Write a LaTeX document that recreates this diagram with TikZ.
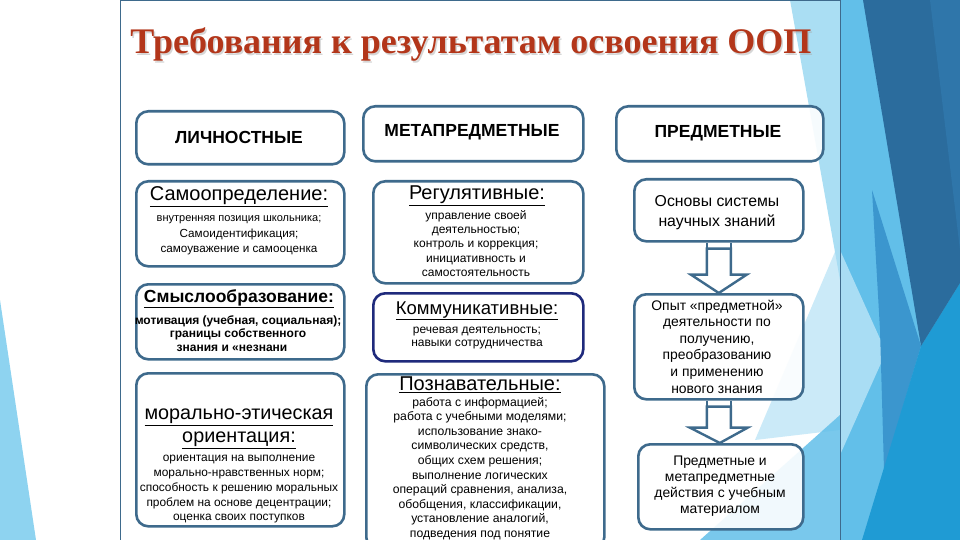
\documentclass[tikz,border=0pt]{standalone}
\usepackage{fontspec}
\setmainfont{Liberation Serif}
\newfontfamily\arial{Liberation Sans}
\usetikzlibrary{calc}
\definecolor{boxc}{HTML}{3E6A8C}
\definecolor{navyc}{HTML}{1F2A7C}
\definecolor{titlec}{HTML}{B3361A}
\definecolor{panelc}{HTML}{3E6A8C}
\definecolor{lblue}{HTML}{8ED3F0}
\definecolor{mblue}{HTML}{62BFE9}
\definecolor{dblue}{HTML}{2B6C9D}
\definecolor{dblue2}{HTML}{2F76AA}
\definecolor{bblue}{HTML}{1F9BD4}
\definecolor{medblue}{HTML}{3B96CE}
\definecolor{pblue}{HTML}{A9DDF4}
\newcommand\myfs[2]{\fontsize{#1}{#2}\selectfont}
\begin{document}
\begin{tikzpicture}[x=1pt,y=-1pt,
  rbox/.style={draw=boxc, line width=2.6pt, rounded corners=12pt, fill=white, fill opacity=0.9, inner sep=0pt, anchor=north west},
  txt/.style={align=center, inner sep=0pt, text=black},
  barrow/.style={draw=boxc, line width=2.4pt, fill=white, line join=miter},
]
\useasboundingbox (0,0) rectangle (960,540);
% background
\fill[white] (0,0) rectangle (960,540);
\fill[lblue] (0,300) -- (36,540) -- (0,540) -- cycle;
\fill[mblue] (830,0) rectangle (960,540);
\fill[pblue] (840,250) -- (886,352) -- (840,455) -- cycle;
\fill[medblue] (872,190) -- (921,346) -- (884,470) -- (880,330) -- cycle;
\fill[bblue] (960,283) -- (960,540) -- (862,540) -- (921,346) -- cycle;
\fill[dblue] (863,0) -- (960,0) -- (960,283) -- (921,346) -- cycle;
\fill[dblue2] (930,0) -- (960,0) -- (960,250) -- cycle;
% panel
\fill[white] (120,0) rectangle (840,540);
\fill[lblue, opacity=0.75] (790,0) -- (840,0) -- (840,280) -- cycle;
\fill[pblue, opacity=0.6] (840,240) -- (840,430) -- (755,440) -- cycle;
\fill[mblue, opacity=0.85] (700,540) -- (840,415) -- (840,540) -- cycle;
\draw[panelc, line width=1pt] (120,541) -- (120,0.5) -- (840,0.5) -- (840,541);
% title
\node[txt, font=\bfseries\myfs{36}{40}, text=black!35, opacity=0.45] at (472.5,46.5) {Требования к результатам освоения ООП};
\node[txt, font=\bfseries\myfs{36}{40}, text=titlec] (title) at (471,45) {Требования к результатам освоения ООП};
% boxes
\node[rbox, minimum width=208pt, minimum height=53pt] (lh) at (135,110) {};
\node[rbox, minimum width=208pt, minimum height=85pt] (l1) at (135,180) {};
\node[rbox, minimum width=208pt, minimum height=75pt] (l2) at (135,283) {};
\node[rbox, minimum width=208pt, minimum height=153pt] (l3) at (135,372) {};
\node[rbox, minimum width=220pt, minimum height=55pt] (mh) at (362,105) {};
\node[rbox, minimum width=210pt, minimum height=102pt] (m1) at (372,180) {};
\node[rbox, draw=navyc, minimum width=210pt, minimum height=68pt] (m2) at (372,292) {};
\node[rbox, minimum width=238pt, minimum height=175pt] (m3) at (365,373) {};
\node[rbox, minimum width=207pt, minimum height=55pt] (rh) at (615,105) {};
\node[rbox, minimum width=169pt, minimum height=62pt] (r1) at (633,178) {};
\node[rbox, minimum width=169pt, minimum height=105pt] (r2) at (633,293) {};
\node[rbox, minimum width=165pt, minimum height=85pt] (r3) at (637,443) {};
% block arrows
\draw[barrow] ($(r1.south)+(-12,6)$) -- ($(r1.south)+(12,6)$) -- ($(r1.south)+(12,32)$) -- ($(r1.south)+(28,32)$) -- (r2.north) -- ($(r1.south)+(-28,32)$) -- ($(r1.south)+(-12,32)$) -- cycle;
\draw[boxc, line width=2.4pt] ($(r1.south)+(-12,0)$) -- ($(r1.south)+(-12,7)$) ($(r1.south)+(12,0)$) -- ($(r1.south)+(12,7)$);
\draw[barrow] ($(r2.south)+(-12,6)$) -- ($(r2.south)+(12,6)$) -- ($(r2.south)+(12,27)$) -- ($(r2.south)+(29,27)$) -- ($(r3.north)+(-1,0)$) -- ($(r2.south)+(-29,27)$) -- ($(r2.south)+(-12,27)$) -- cycle;
\draw[boxc, line width=2.4pt] ($(r2.south)+(-12,0)$) -- ($(r2.south)+(-12,7)$) ($(r2.south)+(12,0)$) -- ($(r2.south)+(12,7)$);
% texts: left column
\node[txt, font=\arial\bfseries\myfs{17.5}{20}] (tlh) at (239,137) {ЛИЧНОСТНЫЕ};
\node[txt, font=\arial\myfs{20}{24}] (tl1) at (239,197) {\underline{Самоопределение:}};
\node[txt, font=\arial\myfs{11}{12}] (tl1a) at (239,220) {внутренняя позиция школьника;};
\node[txt, font=\arial\myfs{11.7}{14.5}] (tl1b) at (239,242) {Самоидентификация;\\самоуважение и самооценка};
\node[txt, font=\arial\bfseries\myfs{17.5}{20}] (tl2) at (239,299) {\underline{Смыслообразование:}};
\node[txt, font=\arial\bfseries\myfs{12}{12.5}] (tl2a) at (238,328) {мотивация (учебная, социальная);\\границы собственного};
\node[txt, font=\arial\bfseries\myfs{12}{12.5}] (tl2b) at (232,348) {знания и «незнани};
\node[txt, font=\arial\myfs{19.8}{23}] (tl3) at (239,428.5) {\underline{морально-этическая}\\\underline{ориентация:}};
\node[txt, font=\arial\myfs{11.9}{14.75}] (tl3a) at (239,489.5) {ориентация на выполнение\\морально-нравственных норм;\\способность к решению моральных\\проблем на основе децентрации;\\оценка своих поступков};
% middle column
\node[txt, font=\arial\bfseries\myfs{17.5}{20}] (tmh) at (472,132) {МЕТАПРЕДМЕТНЫЕ};
\node[txt, font=\arial\myfs{20}{24}] (tm1) at (477,196) {\underline{Регулятивные:}};
\node[txt, font=\arial\myfs{12}{14.4}] (tm1a) at (476,243.5) {управление своей\\деятельностью;\\контроль и коррекция;\\инициативность и\\самостоятельность};
\node[txt, font=\arial\myfs{18.5}{22}] (tm2) at (477,311) {\underline{Коммуникативные:}};
\node[txt, font=\arial\myfs{12}{13}] (tm2a) at (477,338.5) {речевая деятельность;\\навыки сотрудничества};
\node[txt, font=\arial\myfs{20}{23}] (tm3) at (480,385) {\underline{Познавательные:}};
\node[txt, font=\arial\myfs{12.2}{14.55}] (tm3a) at (480,468.5) {работа с информацией;\\работа с учебными моделями;\\использование знако-\\символических средств,\\общих схем решения;\\выполнение логических\\операций сравнения, анализа,\\обобщения, классификации,\\установление аналогий,\\подведения под понятие};
% right column
\node[txt, font=\arial\bfseries\myfs{17.5}{20}] (trh) at (718,133) {ПРЕДМЕТНЫЕ};
\node[txt, font=\arial\myfs{15.8}{20}] (tr1) at (717,213) {Основы системы\\научных знаний};
\node[txt, font=\arial\myfs{13.9}{16.6}] (tr2) at (717,346.5) {Опыт «предметной»\\деятельности по\\получению,\\преобразованию\\и применению\\нового знания};
\node[txt, font=\arial\myfs{13.9}{16}] (tr3) at (720,486) {Предметные и\\метапредметные\\действия с учебным\\материалом};
\end{tikzpicture}
\end{document}
